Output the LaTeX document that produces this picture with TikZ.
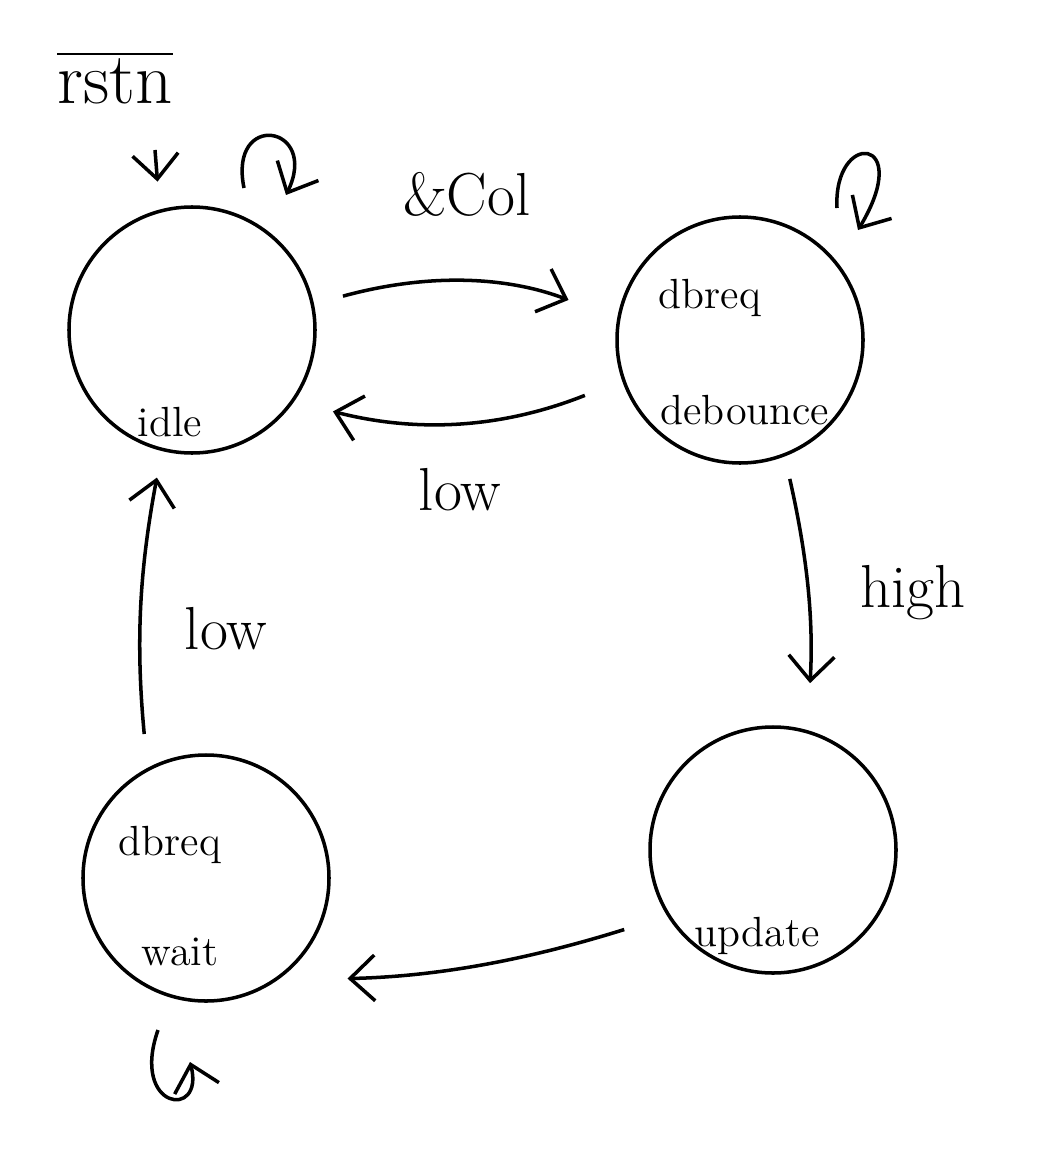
\documentclass[tikz,border=0pt]{standalone}
\usepackage{tikz}
\usetikzlibrary{arrows.meta, positioning}

\begin{document}
\begin{tikzpicture}[
  state/.style={circle, draw, line width=1pt, minimum size=2.46cm, inner sep=0pt},
  arr/.style={-{Straight Barb[length=7pt, width=13pt]}, line width=1pt},
  txt/.style={font=\large, inner sep=1pt},
  elabel/.style={font=\LARGE, inner sep=1pt}
]
  \useasboundingbox (0,0) rectangle (10.51,-11.49);

  % states
  \node[state] (idle)     at (1.92,-3.30) {};
  \node[state] (debounce) at (7.40,-3.40) {};
  \node[state] (update)   at (7.73,-8.50) {};
  \node[state] (wait)     at (2.06,-8.78) {};

  \node[txt] (idlename)   at (1.70,-4.22) {idle};
  \node[txt] (dbout)      at (7.10,-2.98) {dbreq};
  \node[txt] (dbname)     at (7.45,-4.10) {debounce};
  \node[txt] (updname)    at (7.57,-9.36) {update};
  \node[txt] (waitout)    at (1.70,-8.45) {dbreq};
  \node[txt] (waitname)   at (1.80,-9.52) {wait};

  % reset
  \node[font=\huge] (rstn) at (1.15,-0.78) {$\overline{\mbox{rstn}}$};
  \coordinate (rstnin) at (1.55,-1.50);
  \draw[arr, shorten >=0.28cm] (rstnin) -- (idle.105);

  % transitions
  \draw[arr, shorten <=0.30cm, shorten >=0.52cm] (idle.12) to[bend left=18]
    node[midway, above=0.62cm, elabel] (andcol) {\&Col} (debounce.170);
  \draw[arr, shorten <=0.40cm, shorten >=0.40cm] (debounce.199) to[bend left=18]
    node[midway, below=0.42cm, elabel] (lowdb) {low} (idle.-35);
  \draw[arr, shorten <=0.23cm, shorten >=0.47cm] (debounce.-69) to[bend left=8]
    node[midway, right=0.48cm, elabel] (high) {high} (update.74);
  \draw[arr, shorten <=0.45cm, shorten >=0.70cm] (update.212) to[bend left=8]
    (wait.-55);
  \draw[arr, shorten <=0.34cm, shorten >=0.27cm] (wait.118) to[bend left=8]
    node[midway, right=0.38cm, yshift=-0.2cm, elabel] (lowwait) {low} (idle.256);

  % self loops
  \coordinate (idleA) at (2.44,-1.88);
  \coordinate (idleB) at (2.86,-1.95);
  \draw[arr] (idleA) .. controls (2.28,-1.10) and (3.20,-1.25) .. (idleB);
  \coordinate (dbA) at (8.37,-2.08);
  \coordinate (dbB) at (8.58,-2.30);
  \draw[arr] (dbA) .. controls (8.33,-1.30) and (9.15,-1.35) .. (dbB);
  \coordinate (waitA) at (1.58,-10.30);
  \coordinate (waitB) at (1.90,-10.62);
  \draw[arr] (waitA) .. controls (1.30,-11.10) and (2.05,-11.20) .. (waitB);

\end{tikzpicture}
\end{document}
